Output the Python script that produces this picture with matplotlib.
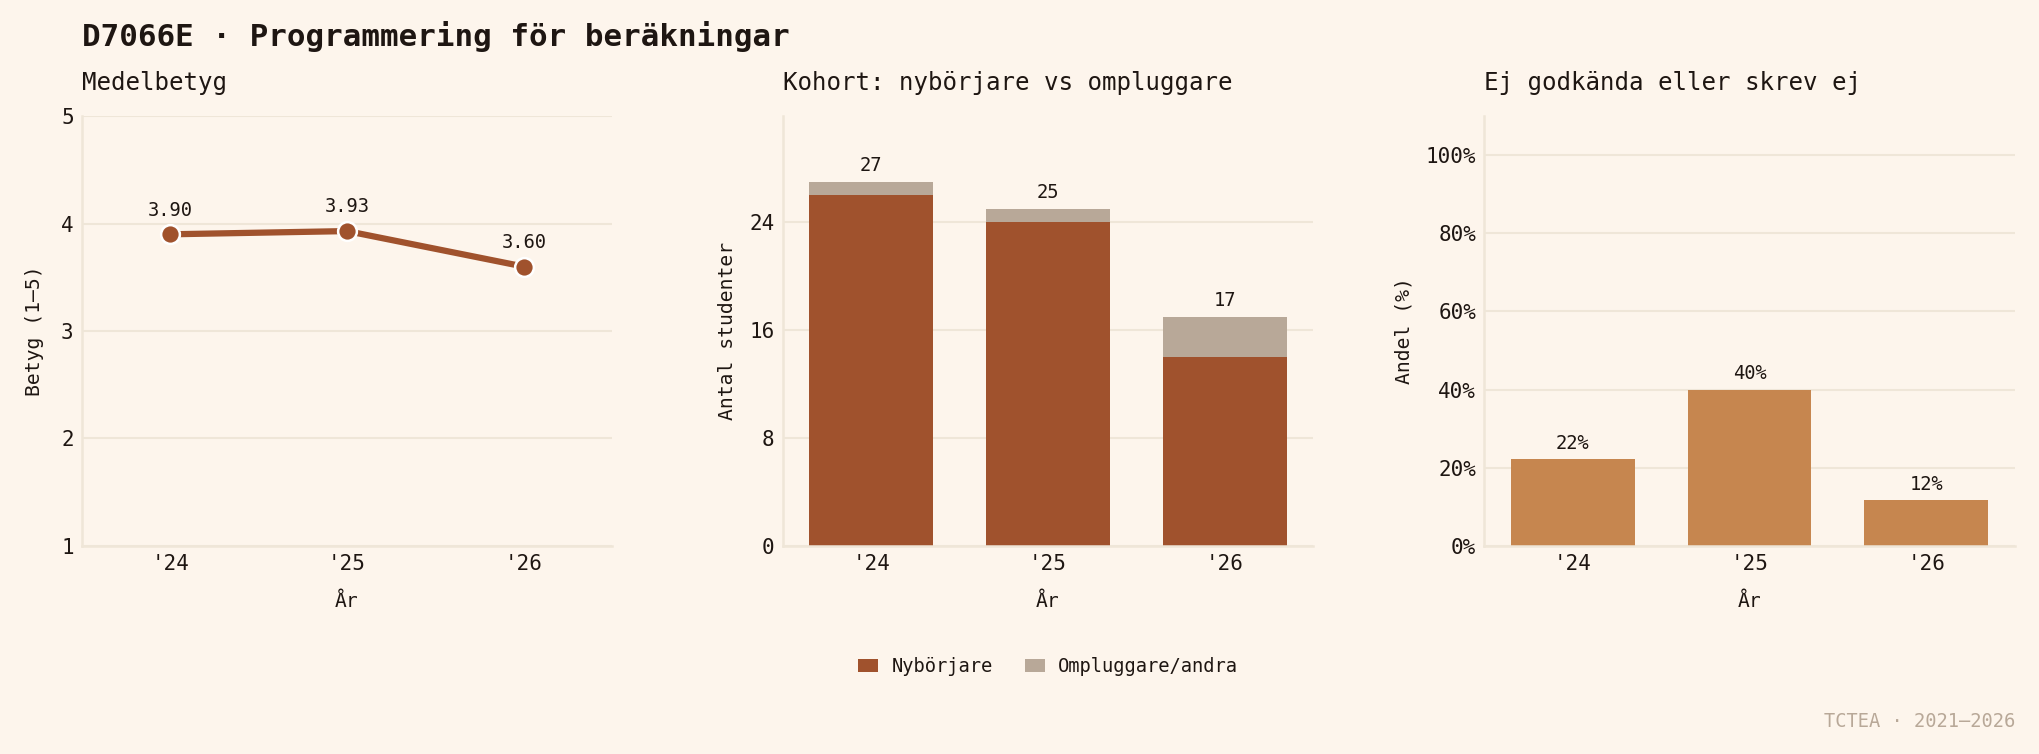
import numpy as np
import matplotlib
matplotlib.use("Agg")
import matplotlib.pyplot as plt
from matplotlib.ticker import FuncFormatter

# =========================================
# Data
# =========================================

years = ["'24", "'25", "'26"]

mean_grade = [3.90, 3.93, 3.60]

new_students = [26, 24, 14]

other_students = [1, 1, 3]

fail_share = [22.2, 40.0, 11.8]

# =========================================
# Style
# =========================================

BG = "#FDF5EC"
GRID = "#EFE6D8"
TEXT = "#1E1612"
SIENNA = "#A0522D"
GREY = "#B8A898"
OCHRE = "#C6864F"

plt.rcParams["font.family"] = ["DejaVu Sans Mono"]
plt.rcParams["text.color"] = TEXT
plt.rcParams["axes.labelcolor"] = TEXT
plt.rcParams["xtick.color"] = TEXT
plt.rcParams["ytick.color"] = TEXT

fig = plt.figure(figsize=(2039 / 150, 754 / 150), dpi=150, facecolor=BG)

lefts = [0.0402, 0.384, 0.728]
axes = [fig.add_axes([l, 0.276, 0.260, 0.570]) for l in lefts]


def style(ax):
    ax.set_facecolor(BG)
    for s in ["top", "right"]:
        ax.spines[s].set_visible(False)
    for s in ["left", "bottom"]:
        ax.spines[s].set_color(GRID)
        ax.spines[s].set_linewidth(1.2)
    ax.grid(axis="y", color=GRID, linewidth=1.0)
    ax.set_axisbelow(True)
    ax.tick_params(length=0, pad=4, labelsize=10)
    ax.set_xlim(-0.5, 2.5)
    ax.set_xlabel("År", fontsize=9.5, labelpad=8.5)


x = np.arange(len(years))

# =========================================
# Panel 1: Medelbetyg
# =========================================

ax = axes[0]
style(ax)
ax.plot(x, mean_grade, color=SIENNA, linewidth=3, marker="o", markersize=9,
        markeredgecolor="white", markeredgewidth=1.2, zorder=3)
for xi, v in zip(x, mean_grade):
    ax.annotate(f"{v:.2f}", (xi, v), xytext=(0, 7), textcoords="offset points",
                ha="center", va="bottom", fontsize=9)
ax.set_ylim(1, 5)
ax.set_yticks([1, 2, 3, 4, 5])
ax.set_xticks(x, years)
ax.set_ylabel("Betyg (1–5)", fontsize=9.5, labelpad=8)
ax.set_title("Medelbetyg", loc="left", fontsize=11.6, pad=12.5)

# =========================================
# Panel 2: Kohort
# =========================================

ax = axes[1]
style(ax)
ax.bar(x, new_students, width=0.7, color=SIENNA, label="Nybörjare")
ax.bar(x, other_students, width=0.7, bottom=new_students, color=GREY,
       label="Ompluggare/andra")
totals = [a + b for a, b in zip(new_students, other_students)]
for xi, t in zip(x, totals):
    ax.annotate(f"{t}", (xi, t), xytext=(0, 3), textcoords="offset points",
                ha="center", va="bottom", fontsize=9)
ax.set_ylim(0, max(totals) * 1.18)
ax.set_yticks([0, 8, 16, 24])
ax.set_xticks(x, years)
ax.set_ylabel("Antal studenter", fontsize=9.5, labelpad=6)
ax.set_title("Kohort: nybörjare vs ompluggare", loc="left", fontsize=11.6, pad=12.5)
ax.legend(loc="upper center", bbox_to_anchor=(0.5, -0.22), ncol=2,
          frameon=False, fontsize=9, handlelength=1.1, handleheight=0.7,
          handletextpad=0.7, columnspacing=1.7)

# =========================================
# Panel 3: Ej godkända
# =========================================

ax = axes[2]
style(ax)
ax.bar(x, fail_share, width=0.7, color=OCHRE)
for xi, v in zip(x, fail_share):
    ax.annotate(f"{v:.0f}%", (xi, v), xytext=(0, 3), textcoords="offset points",
                ha="center", va="bottom", fontsize=9)
ax.set_ylim(0, 110)
ax.set_yticks([0, 20, 40, 60, 80, 100])
ax.yaxis.set_major_formatter(FuncFormatter(lambda v, p: f"{v:.0f}%"))
ax.set_xticks(x, years)
ax.set_ylabel("Andel (%)", fontsize=9.5, labelpad=6)
ax.set_title("Ej godkända eller skrev ej", loc="left", fontsize=11.6, pad=12.5)

# =========================================
# Titles / footer
# =========================================

fig.text(0.0402, 0.952, "D7066E · Programmering för beräkningar",
         fontsize=14.8, fontweight="bold", va="center", ha="left")
fig.text(0.9885, 0.043, "TCTEA · 2021–2026", fontsize=9, color=GREY,
         ha="right", va="center")

fig.savefig("out.png", dpi=150, facecolor=BG)
